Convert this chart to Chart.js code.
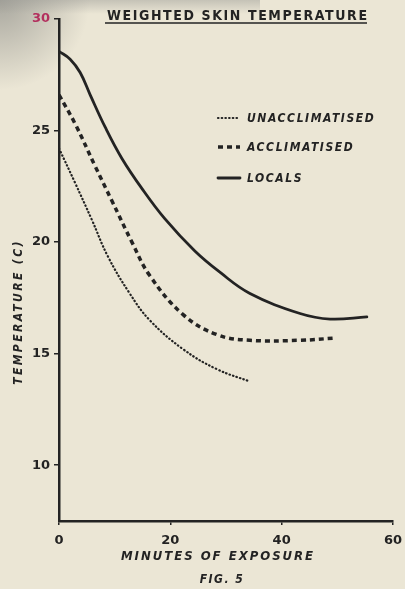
<!DOCTYPE html>
<html><head><meta charset="utf-8">
<script src="https://cdn.jsdelivr.net/npm/chart.js@4/dist/chart.umd.min.js"></script>
<style>html,body{margin:0;padding:0;background:#ebe6d5;}#wrap{width:405px;height:589px;}</style>
</head><body><div id="wrap"><canvas id="c" width="405" height="589"></canvas></div>
<script>
const titleText = "WEIGHTED SKIN TEMPERATURE";
const xTitle = "MINUTES OF EXPOSURE";
const yTitle = "TEMPERATURE (C)";
const figText = "FIG. 5";
const xTicks = [0, 20, 40, 60];
const yTicks = [10, 15, 20, 25, 30];
const seriesNames = ["UNACCLIMATISED", "ACCLIMATISED", "LOCALS"];

const minutesUnacc = [0, 2.9, 5.9, 8.8, 12.7, 16.3, 22.3, 28.4, 34.3];
const tempUnacc    = [24.2, 22.65, 21.0, 19.35, 17.7, 16.5, 15.2, 14.3, 13.75];
const minutesAcc   = [0, 2.9, 6.5, 9.5, 13.1, 16.3, 22.3, 28.4, 34.3, 43.3, 49.6];
const tempAcc      = [26.6, 25.3, 23.4, 21.85, 20.0, 18.5, 16.75, 15.85, 15.6, 15.6, 15.7];
const minutesLoc   = [0, 2, 3.8, 5.6, 8.3, 11.3, 14.9, 19, 24.4, 28.9, 34.3, 43.3, 48.7, 55.3];
const tempLoc      = [28.55, 28.2, 27.6, 26.6, 25.15, 23.75, 22.4, 21.05, 19.6, 18.65, 17.7, 16.8, 16.55, 16.65];

const ink = '#232323';
const pts = (xs, ys) => xs.map((x, i) => ({x, y: ys[i]}));

const paper = {
  id: 'paper',
  beforeDraw(chart) {
    const ctx = chart.ctx;
    ctx.save();
    ctx.fillStyle = '#ebe6d5';
    ctx.fillRect(0, 0, chart.width, chart.height);
    const g = ctx.createRadialGradient(0, 0, 0, 0, 0, 90);
    g.addColorStop(0, 'rgba(140,140,135,0.7)');
    g.addColorStop(1, 'rgba(140,140,135,0)');
    ctx.fillStyle = g;
    ctx.fillRect(0, 0, 120, 120);
    const t = ctx.createLinearGradient(0, 0, 0, 14);
    t.addColorStop(0, 'rgba(150,150,145,0.45)');
    t.addColorStop(1, 'rgba(150,150,145,0)');
    ctx.fillStyle = t;
    ctx.fillRect(0, 0, 260, 14);
    ctx.restore();
  }
};

const annot = {
  id: 'annot',
  afterDraw(chart) {
    const ctx = chart.ctx;
    ctx.save();
    ctx.fillStyle = ink;
    ctx.strokeStyle = ink;
    ctx.font = 'bold 14px "DejaVu Sans Condensed", "DejaVu Sans", sans-serif';
    ctx.letterSpacing = '1.6px';
    ctx.textAlign = 'left';
    ctx.textBaseline = 'alphabetic';
    ctx.fillText(titleText, 107, 20);
    ctx.lineWidth = 1.5;
    ctx.beginPath(); ctx.moveTo(105, 23); ctx.lineTo(367, 23); ctx.stroke();
    ctx.font = 'italic bold 13px "DejaVu Sans Condensed", "DejaVu Sans", sans-serif';
    ctx.letterSpacing = '2px';
    ctx.textAlign = 'center';
    ctx.fillText(xTitle, 218, 560);
    ctx.font = 'italic bold 12px "DejaVu Sans Condensed", "DejaVu Sans", sans-serif';
    ctx.letterSpacing = '1.5px';
    ctx.fillText(figText, 222, 583);
    ctx.save();
    ctx.translate(22, 312);
    ctx.rotate(-Math.PI / 2);
    ctx.font = 'italic bold 12px "DejaVu Sans Condensed", "DejaVu Sans", sans-serif';
    ctx.letterSpacing = '2.4px';
    ctx.textAlign = 'center';
    ctx.fillText(yTitle, 0, 0);
    ctx.restore();
    const rows = [118, 147, 178];
    ctx.font = 'italic bold 12px "DejaVu Sans Condensed", "DejaVu Sans", sans-serif';
    ctx.letterSpacing = '1.6px';
    ctx.textAlign = 'left';
    ctx.textBaseline = 'middle';
    chart.data.datasets.forEach((ds, i) => {
      const y = rows[i];
      ctx.save();
      ctx.strokeStyle = ds.borderColor;
      ctx.lineWidth = ds.borderWidth;
      ctx.setLineDash(ds.borderDash || []);
      ctx.lineCap = ds.borderCapStyle || 'butt';
      ctx.beginPath(); ctx.moveTo(218, y); ctx.lineTo(240, y); ctx.stroke();
      ctx.restore();
      ctx.fillText(seriesNames[i], 247, y + 1);
    });
    ctx.restore();
  }
};

new Chart(document.getElementById('c'), {
  type: 'line',
  data: {
    datasets: [
      {label: seriesNames[0], data: pts(minutesUnacc, tempUnacc), borderColor: ink, borderWidth: 2.2,
       borderDash: [0.5, 3.2], borderCapStyle: 'round', pointRadius: 0, tension: 0.4, fill: false},
      {label: seriesNames[1], data: pts(minutesAcc, tempAcc), borderColor: ink, borderWidth: 3.5,
       borderDash: [5, 4], borderCapStyle: 'butt', pointRadius: 0, tension: 0.4, fill: false},
      {label: seriesNames[2], data: pts(minutesLoc, tempLoc), borderColor: ink, borderWidth: 2.8,
       borderCapStyle: 'round', pointRadius: 0, tension: 0.4, fill: false}
    ]
  },
  options: {
    responsive: false,
    animation: false,
    devicePixelRatio: 1,
    layout: {padding: {top: 19, right: 12, left: 0, bottom: 0}},
    plugins: {legend: {display: false}, tooltip: {enabled: false}, title: {display: false}},
    scales: {
      x: {
        type: 'linear', min: 0, max: 60,
        afterBuildTicks: s => { s.ticks = xTicks.map(v => ({value: v})); },
        afterFit: s => { s.height = 68; s.paddingLeft = 0; s.paddingRight = 0; },
        grid: {display: true, drawOnChartArea: false, drawTicks: true, tickLength: 4, color: ink, lineWidth: 1.5},
        border: {display: true, color: ink, width: 2.5},
        ticks: {color: ink, padding: 8, font: {family: '"DejaVu Sans", sans-serif', size: 13, weight: 'bold'}, maxRotation: 0}
      },
      y: {
        type: 'linear', min: 7.5, max: 30,
        afterBuildTicks: s => { s.ticks = yTicks.map(v => ({value: v})); },
        afterFit: s => { s.width = 59; s.paddingTop = 0; s.paddingBottom = 0; },
        grid: {display: true, drawOnChartArea: false, drawTicks: true, tickLength: 5, color: ink, lineWidth: 1.5},
        border: {display: true, color: ink, width: 2.5},
        ticks: {
          color: c => c.tick && c.tick.value === 30 ? '#b3305e' : ink,
          padding: 4,
          font: {family: '"DejaVu Sans", sans-serif', size: 13, weight: 'bold'}
        }
      }
    }
  },
  plugins: [paper, annot]
});
</script>
</body></html>
